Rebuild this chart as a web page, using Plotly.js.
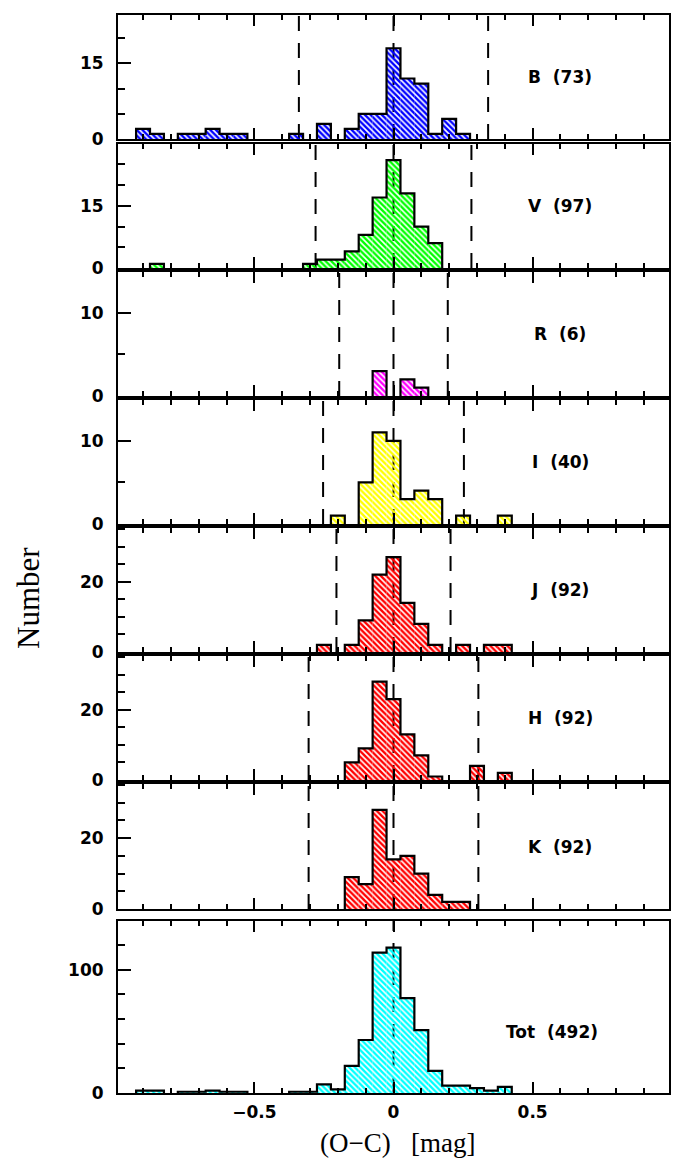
<!DOCTYPE html>
<html>
<head>
<meta charset="utf-8">
<script src="https://cdn.plot.ly/plotly-3.0.1.min.js"></script>
<style>
  body { margin: 0; background: #fff; }
  #chart { width: 681px; height: 1173px; }
</style>
</head>
<body>
<div id="chart"></div>
<script>
// O-C residual histograms, bin width 0.05 mag, counts
var binWidth = 0.05;

var bCenters = [-0.9, -0.85, -0.75, -0.7, -0.65, -0.6, -0.55, -0.35, -0.25, -0.15, -0.1, -0.05, 0, 0.05, 0.1, 0.15, 0.2, 0.25];
var bCounts  = [2, 1, 1, 1, 2, 1, 1, 1, 3, 2, 5, 5, 18, 12, 11, 1, 4, 1];

var vCenters = [-0.85, -0.3, -0.25, -0.2, -0.15, -0.1, -0.05, 0, 0.05, 0.1, 0.15];
var vCounts  = [1, 1, 2, 2, 4, 8, 17, 26, 18, 10, 6];

var rCenters = [-0.05, 0.05, 0.1];
var rCounts  = [3, 2, 1];

var iCenters = [-0.2, -0.1, -0.05, 0, 0.05, 0.1, 0.15, 0.25, 0.4];
var iCounts  = [1, 5, 11, 10, 3, 4, 3, 1, 1];

var jCenters = [-0.25, -0.15, -0.1, -0.05, 0, 0.05, 0.1, 0.15, 0.25, 0.35, 0.4];
var jCounts  = [2, 2, 9, 22, 27, 14, 8, 2, 2, 2, 2];

var hCenters = [-0.15, -0.1, -0.05, 0, 0.05, 0.1, 0.15, 0.3, 0.4];
var hCounts  = [5, 9, 28, 23, 13, 7, 1, 4, 2];

var kCenters = [-0.15, -0.1, -0.05, 0, 0.05, 0.1, 0.15, 0.2, 0.25];
var kCounts  = [9, 7, 28, 14, 15, 10, 4, 2, 2];

var totCenters = [-0.9, -0.85, -0.75, -0.7, -0.65, -0.6, -0.55, -0.35, -0.3, -0.25, -0.2, -0.15, -0.1, -0.05, 0, 0.05, 0.1, 0.15, 0.2, 0.25, 0.3, 0.35, 0.4];
var totCounts  = [2, 2, 1, 1, 2, 1, 1, 1, 1, 7, 3, 22, 43, 114, 118, 77, 51, 18, 6, 6, 4, 2, 5];

var bandLabels = ['B\u00a0\u00a0(73)', 'V\u00a0\u00a0(97)', 'R\u00a0\u00a0(6)', 'I\u00a0\u00a0(40)', 'J\u00a0\u00a0(92)', 'H\u00a0\u00a0(92)', 'K\u00a0\u00a0(92)', 'Tot\u00a0\u00a0(492)'];
// +/- clipping limits (dashed lines)
var sigmaLimits = [0.34, 0.28, 0.195, 0.253, 0.205, 0.305, 0.305, null];

// panel setup: colours, y ranges, pixel top/bottom of each frame
var panels = [
  {x: bCenters,   y: bCounts,   color: '#0000ff', ymax: 24.6,  dtick: 15,  minor: 5,  top: 15,  bottom: 139},
  {x: vCenters,   y: vCounts,   color: '#00ff00', ymax: 29.9,  dtick: 15,  minor: 5,  top: 144, bottom: 268},
  {x: rCenters,   y: rCounts,   color: '#ff00ff', ymax: 14.9,  dtick: 10,  minor: 5,  top: 272, bottom: 396},
  {x: iCenters,   y: iCounts,   color: '#ffff00', ymax: 14.9,  dtick: 10,  minor: 5,  top: 400, bottom: 524},
  {x: jCenters,   y: jCounts,   color: '#ff0000', ymax: 35.3,  dtick: 20,  minor: 5,  top: 528, bottom: 652},
  {x: hCenters,   y: hCounts,   color: '#ff0000', ymax: 35.3,  dtick: 20,  minor: 5,  top: 656, bottom: 780},
  {x: kCenters,   y: kCounts,   color: '#ff0000', ymax: 35.3,  dtick: 20,  minor: 5,  top: 784, bottom: 909},
  {x: totCenters, y: totCounts, color: '#00ffff', ymax: 139.6, dtick: 100, minor: 20, top: 921, bottom: 1093}
];

var W = 681, H = 1173;
var mL = 118, mR = 12, mT = 15, mB = 80;
var plotH = H - mT - mB;
var plotW = W - mL - mR;

// outline of the histogram as one step line, broken at empty bins
function stepOutline(centers, counts) {
  var xs = [], ys = [];
  var half = binWidth / 2;
  for (var i = 0; i < centers.length; i++) {
    var l = centers[i] - half, r = centers[i] + half;
    var newGroup = i === 0 || Math.abs(centers[i] - centers[i - 1] - binWidth) > 1e-6;
    if (newGroup) {
      if (i > 0) {
        xs.push(centers[i - 1] + half, null);
        ys.push(0, null);
      }
      xs.push(l); ys.push(0);
    }
    xs.push(l, r);
    ys.push(counts[i], counts[i]);
  }
  xs.push(centers[centers.length - 1] + half);
  ys.push(0);
  return {x: xs, y: ys};
}

var boldFont = 'DejaVu Sans, Liberation Sans, Arial, sans-serif';
var serifFont = 'Liberation Serif, Times New Roman, serif';
var tickFont = {family: boldFont, size: 17, color: '#000', weight: 'bold'};

var data = [];
var shapes = [];
var annotations = [];
var layout = {
  width: W,
  height: H,
  margin: {l: mL, r: mR, t: mT, b: mB},
  paper_bgcolor: '#fff',
  plot_bgcolor: '#fff',
  showlegend: false,
  barmode: 'overlay'
};

panels.forEach(function (p, i) {
  var n = i === 0 ? '' : String(i + 1);
  var xa = 'x' + n, ya = 'y' + n;
  var last = i === panels.length - 1;

  data.push({
    type: 'bar', x: p.x, y: p.y, width: binWidth,
    xaxis: xa, yaxis: ya, hoverinfo: 'skip',
    marker: {
      color: p.color,
      line: {width: 0},
      pattern: {shape: '\\', fgcolor: p.color, size: 4, solidity: 0.6}
    }
  });

  var s = stepOutline(p.x, p.y);
  data.push({
    type: 'scatter', mode: 'lines', x: s.x, y: s.y,
    xaxis: xa, yaxis: ya, hoverinfo: 'skip', connectgaps: false,
    line: {color: '#000', width: 2.2}
  });

  layout['xaxis' + n] = {
    anchor: ya,
    domain: [0, 1],
    range: [-0.99, 0.99],
    tick0: 0, dtick: 0.5,
    ticks: 'inside', ticklen: 11, tickwidth: 2, tickcolor: '#000',
    minor: {dtick: 0.1, ticks: 'inside', ticklen: 5, tickwidth: 2, tickcolor: '#000'},
    showline: true, linecolor: '#000', linewidth: 2, mirror: 'ticks',
    showgrid: false, zeroline: false,
    showticklabels: last,
    ticklabelstandoff: 3,
    tickfont: tickFont,
    fixedrange: true
  };

  layout['yaxis' + n] = {
    anchor: xa,
    domain: [(H - mB - p.bottom) / plotH, (H - mB - p.top) / plotH],
    range: [0, p.ymax],
    tick0: 0, dtick: p.dtick,
    ticks: 'inside', ticklen: 13, tickwidth: 2, tickcolor: '#000',
    minor: {dtick: p.minor, ticks: 'inside', ticklen: 7, tickwidth: 2, tickcolor: '#000'},
    showline: true, linecolor: '#000', linewidth: 2, mirror: true,
    showgrid: false, zeroline: false,
    ticklabelstandoff: 9,
    tickfont: tickFont,
    fixedrange: true
  };

  var lines = [0];
  if (sigmaLimits[i] !== null) lines.push(-sigmaLimits[i], sigmaLimits[i]);
  lines.forEach(function (v) {
    shapes.push({
      type: 'line', layer: 'below',
      xref: xa, yref: ya + ' domain',
      x0: v, x1: v, y0: 0, y1: 1,
      line: {color: '#000', width: 2, dash: '15px,12px'}
    });
  });

  annotations.push({
    xref: xa, yref: ya + ' domain',
    x: last ? 0.57 : 0.6,
    y: last ? 0.355 : 0.5,
    text: bandLabels[i], showarrow: false,
    xanchor: 'center', yanchor: 'middle',
    font: {family: boldFont, size: 17, color: '#000', weight: 'bold'}
  });
});

// axis titles
annotations.push({
  xref: 'paper', yref: 'paper',
  x: (28 - mL) / plotW, y: (H - mB - 598) / plotH,
  text: 'Number', textangle: -90, showarrow: false,
  xanchor: 'center', yanchor: 'middle',
  font: {family: serifFont, size: 31, color: '#000'}
});
annotations.push({
  xref: 'paper', yref: 'paper',
  x: (397 - mL) / plotW, y: (H - mB - 1143) / plotH,
  text: '(O\u2212C)\u00a0\u00a0\u00a0[mag]', showarrow: false,
  xanchor: 'center', yanchor: 'middle',
  font: {family: serifFont, size: 27, color: '#000'}
});

layout.shapes = shapes;
layout.annotations = annotations;

Plotly.newPlot('chart', data, layout, {displayModeBar: false, staticPlot: true});
</script>
</body>
</html>
